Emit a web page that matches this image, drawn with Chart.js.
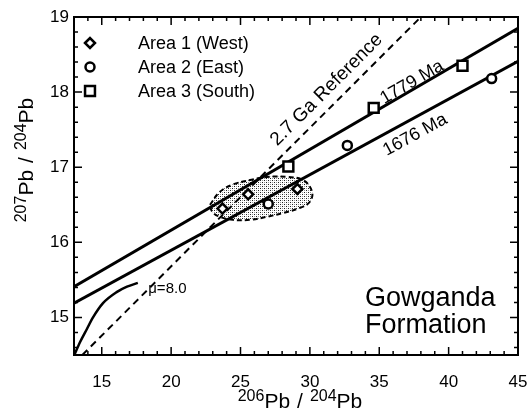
<!DOCTYPE html>
<html>
<head>
<meta charset="utf-8">
<script src="https://cdn.jsdelivr.net/npm/chart.js@4.4.1/dist/chart.umd.min.js"></script>
<style>
  html, body { margin: 0; padding: 0; background: #fff; }
  #wrap { width: 528px; height: 414px; }
</style>
</head>
<body>
<div id="wrap"><canvas id="chart" width="528" height="414"></canvas></div>
<script>
// tick labels
const xTicks = [15, 20, 25, 30, 35, 40, 45];
const yTicks = [15, 16, 17, 18, 19];

// samples (206Pb/204Pb, 207Pb/204Pb)
const area1West = [{x: 23.7, y: 16.45}, {x: 25.55, y: 16.64}, {x: 29.1, y: 16.71}];
const area2East = [{x: 27.0, y: 16.51}, {x: 32.7, y: 17.29}, {x: 43.1, y: 18.18}];
const area3South = [{x: 28.45, y: 17.01}, {x: 34.6, y: 17.79}, {x: 41.0, y: 18.35}];

// isochrons and reference lines
const iso1779 = [{x: 13, y: 15.41}, {x: 45, y: 18.85}];
const iso1676 = [{x: 13, y: 15.19}, {x: 45, y: 18.41}];
const ref27Ga = [{x: 13.6, y: 14.5}, {x: 38.0, y: 19.0}];
const mu8Curve = [
    {x: 13.02, y: 14.5}, {x: 13.43, y: 14.67}, {x: 13.94, y: 14.85}, {x: 14.37, y: 15.0},
    {x: 15.09, y: 15.19}, {x: 16.1, y: 15.34}, {x: 16.82, y: 15.41}, {x: 17.6, y: 15.46}
];

// outline of the shaded field around Area 1
const fieldOutline = [
    {x: 22.8, y: 16.5}, {x: 23.5, y: 16.67}, {x: 24.45, y: 16.77}, {x: 25.7, y: 16.83},
    {x: 26.9, y: 16.87}, {x: 28.35, y: 16.87}, {x: 29.5, y: 16.83}, {x: 30.15, y: 16.68},
    {x: 30.0, y: 16.54}, {x: 29.3, y: 16.46}, {x: 28.05, y: 16.39}, {x: 26.9, y: 16.34},
    {x: 25.7, y: 16.3}, {x: 24.45, y: 16.3}, {x: 23.5, y: 16.34}, {x: 22.95, y: 16.41},
    {x: 22.8, y: 16.5}
];

const FONT = "'Liberation Sans', Arial, Helvetica, sans-serif";

function stipple() {
    const c = document.createElement('canvas');
    c.width = 4; c.height = 4;
    const g = c.getContext('2d');
    g.fillStyle = '#fff';
    g.fillRect(0, 0, 4, 4);
    g.fillStyle = '#222';
    g.fillRect(0, 0, 1, 1);
    g.fillRect(2, 2, 1, 1);
    g.fillStyle = '#999';
    g.fillRect(2, 0, 1, 1);
    g.fillRect(0, 2, 1, 1);
    return g.createPattern(c, 'repeat');
}

const ctx0 = document.getElementById('chart').getContext('2d');

const symbolStyle = (style, r) => ({
    pointStyle: style, pointRadius: r, pointHoverRadius: r,
    pointBackgroundColor: '#fff', pointBorderColor: '#000', pointBorderWidth: 2.5,
    showLine: false
});

const legendItems = [
    {label: 'Area 1 (West)', style: 'rectRot', r: 5},
    {label: 'Area 2 (East)', style: 'circle', r: 4.5},
    {label: 'Area 3 (South)', style: 'rect', r: 7}
];

function drawSup(ctx, parts, x, y, mainSize, supSize, raise) {
    let total = 0;
    parts.forEach(p => {
        ctx.font = (p.sup ? supSize : mainSize) + 'px ' + FONT;
        p.w = ctx.measureText(p.t).width + (p.pad || 0) * 2;
        total += p.w;
    });
    let cx = x - total / 2;
    ctx.textAlign = 'left';
    ctx.textBaseline = 'alphabetic';
    parts.forEach(p => {
        ctx.font = (p.sup ? supSize : mainSize) + 'px ' + FONT;
        ctx.fillText(p.t, cx + (p.pad || 0), p.sup ? y - raise : y);
        cx += p.w;
    });
}

const annotations = {
    id: 'annotations',
    afterDatasetsDraw(chart) {
        const {ctx, chartArea: a, scales: {x, y}} = chart;
        ctx.save();
        ctx.fillStyle = '#000';
        ctx.strokeStyle = '#000';

        // inward ticks on all four sides
        ctx.lineWidth = 1.5;
        ctx.beginPath();
        for (let v = Math.ceil(x.min); v <= x.max; v++) {
            const px = x.getPixelForValue(v);
            const len = v % 5 === 0 ? 8 : 4;
            ctx.moveTo(px, a.bottom); ctx.lineTo(px, a.bottom - len);
            ctx.moveTo(px, a.top); ctx.lineTo(px, a.top + len);
        }
        for (let k = Math.ceil(y.min * 5); k <= y.max * 5; k++) {
            const py = y.getPixelForValue(k / 5);
            const len = k % 5 === 0 ? 8 : 4;
            ctx.moveTo(a.left, py); ctx.lineTo(a.left + len, py);
            ctx.moveTo(a.right, py); ctx.lineTo(a.right - len, py);
        }
        ctx.stroke();
        ctx.lineWidth = 2;
        ctx.strokeRect(a.left, a.top, a.width, a.height);

        // line labels, rotated along their lines
        const slopeAngle = (pts) => Math.atan2(
            y.getPixelForValue(pts[1].y) - y.getPixelForValue(pts[0].y),
            x.getPixelForValue(pts[1].x) - x.getPixelForValue(pts[0].x));
        const rotText = (txt, vx, vy, ang, size) => {
            ctx.save();
            ctx.translate(x.getPixelForValue(vx), y.getPixelForValue(vy));
            ctx.rotate(ang);
            ctx.font = size + 'px ' + FONT;
            ctx.textAlign = 'center';
            ctx.textBaseline = 'middle';
            ctx.fillText(txt, 0, 0);
            ctx.restore();
        };
        rotText('2.7 Ga Reference', 31.2, 18.03, slopeAngle(ref27Ga), 19);
        rotText('1779 Ma', 37.36, 18.13, slopeAngle(iso1779), 18);
        rotText('1676 Ma', 37.58, 17.43, slopeAngle(iso1676), 18);

        ctx.font = '15px ' + FONT;
        ctx.textAlign = 'left';
        ctx.textBaseline = 'middle';
        ctx.fillText('\u03bc=8.0', x.getPixelForValue(18.35), y.getPixelForValue(15.38));

        ctx.font = '27px ' + FONT;
        ctx.textBaseline = 'alphabetic';
        const gx = x.getPixelForValue(33.97), gy = y.getPixelForValue(15.15);
        ctx.fillText('Gowganda', gx, gy);
        ctx.fillText('Formation', gx, gy + 27);

        // legend
        legendItems.forEach((it, i) => {
            const ly = a.top + 26 + i * 24;
            ctx.fillStyle = '#fff';
            ctx.strokeStyle = '#000';
            ctx.lineWidth = 2.5;
            Chart.helpers.drawPoint(ctx, {pointStyle: it.style, radius: it.r, rotation: 0, borderWidth: 2.5}, a.left + 16, ly);
            ctx.fillStyle = '#000';
            ctx.font = '18px ' + FONT;
            ctx.textAlign = 'left';
            ctx.textBaseline = 'middle';
            ctx.fillText(it.label, a.left + 64, ly + 1);
        });

        // axis titles with superscripts
        ctx.fillStyle = '#000';
        drawSup(ctx, [{t: '206', sup: true}, {t: 'Pb'}, {t: '/', pad: 7}, {t: '204', sup: true}, {t: 'Pb'}],
            (a.left + a.right) / 2 + 4, 408, 21, 16, 7);
        ctx.save();
        ctx.translate(33, 160);
        ctx.rotate(-Math.PI / 2);
        drawSup(ctx, [{t: '207', sup: true}, {t: 'Pb'}, {t: '/', pad: 7}, {t: '204', sup: true}, {t: 'Pb'}],
            0, 0, 21, 16, 7);
        ctx.restore();

        ctx.restore();
    }
};

const chart = new Chart(ctx0, {
    type: 'scatter',
    data: {
        datasets: [
            Object.assign({label: 'Area 1 (West)', data: area1West, order: 0}, symbolStyle('rectRot', 5)),
            Object.assign({label: 'Area 2 (East)', data: area2East, order: 0}, symbolStyle('circle', 4.5)),
            Object.assign({label: 'Area 3 (South)', data: area3South, order: 0}, symbolStyle('rect', 7)),
            {label: '1779 Ma', data: iso1779, showLine: true, borderColor: '#000', borderWidth: 3, pointRadius: 0, order: 1},
            {label: '1676 Ma', data: iso1676, showLine: true, borderColor: '#000', borderWidth: 3, pointRadius: 0, order: 1},
            {label: '2.7 Ga Reference', data: ref27Ga, showLine: true, borderColor: '#000', borderWidth: 2, borderDash: [7, 5], pointRadius: 0, order: 2},
            {label: 'mu=8.0', data: mu8Curve, showLine: true, borderColor: '#000', borderWidth: 2.5, pointRadius: 0, tension: 0.4, cubicInterpolationMode: 'monotone', order: 1},
            {label: 'field', data: fieldOutline, showLine: true, borderColor: '#000', borderWidth: 2, borderDash: [5, 3],
             backgroundColor: stipple(), fill: 'shape', tension: 0.4, pointRadius: 0, order: 3}
        ]
    },
    options: {
        responsive: false,
        animation: false,
        events: [],
        layout: {padding: {top: 17, right: 10, left: 0, bottom: 0}},
        plugins: {legend: {display: false}, tooltip: {enabled: false}},
        scales: {
            x: {
                type: 'linear', min: 13, max: 45,
                afterBuildTicks: s => { s.ticks = xTicks.map(v => ({value: v})); },
                afterFit: s => { s.height = 59; s.paddingLeft = 0; s.paddingRight = 0; },
                grid: {display: false, drawTicks: false},
                border: {display: false},
                ticks: {color: '#000', padding: 17, font: {family: FONT, size: 17}}
            },
            y: {
                type: 'linear', min: 14.5, max: 19,
                afterBuildTicks: s => { s.ticks = yTicks.map(v => ({value: v})); },
                afterFit: s => { s.width = 74; s.paddingTop = 0; s.paddingBottom = 0; },
                grid: {display: false, drawTicks: false},
                border: {display: false},
                ticks: {color: '#000', padding: 5, font: {family: FONT, size: 17}}
            }
        }
    },
    plugins: [annotations]
});
</script>
</body>
</html>
